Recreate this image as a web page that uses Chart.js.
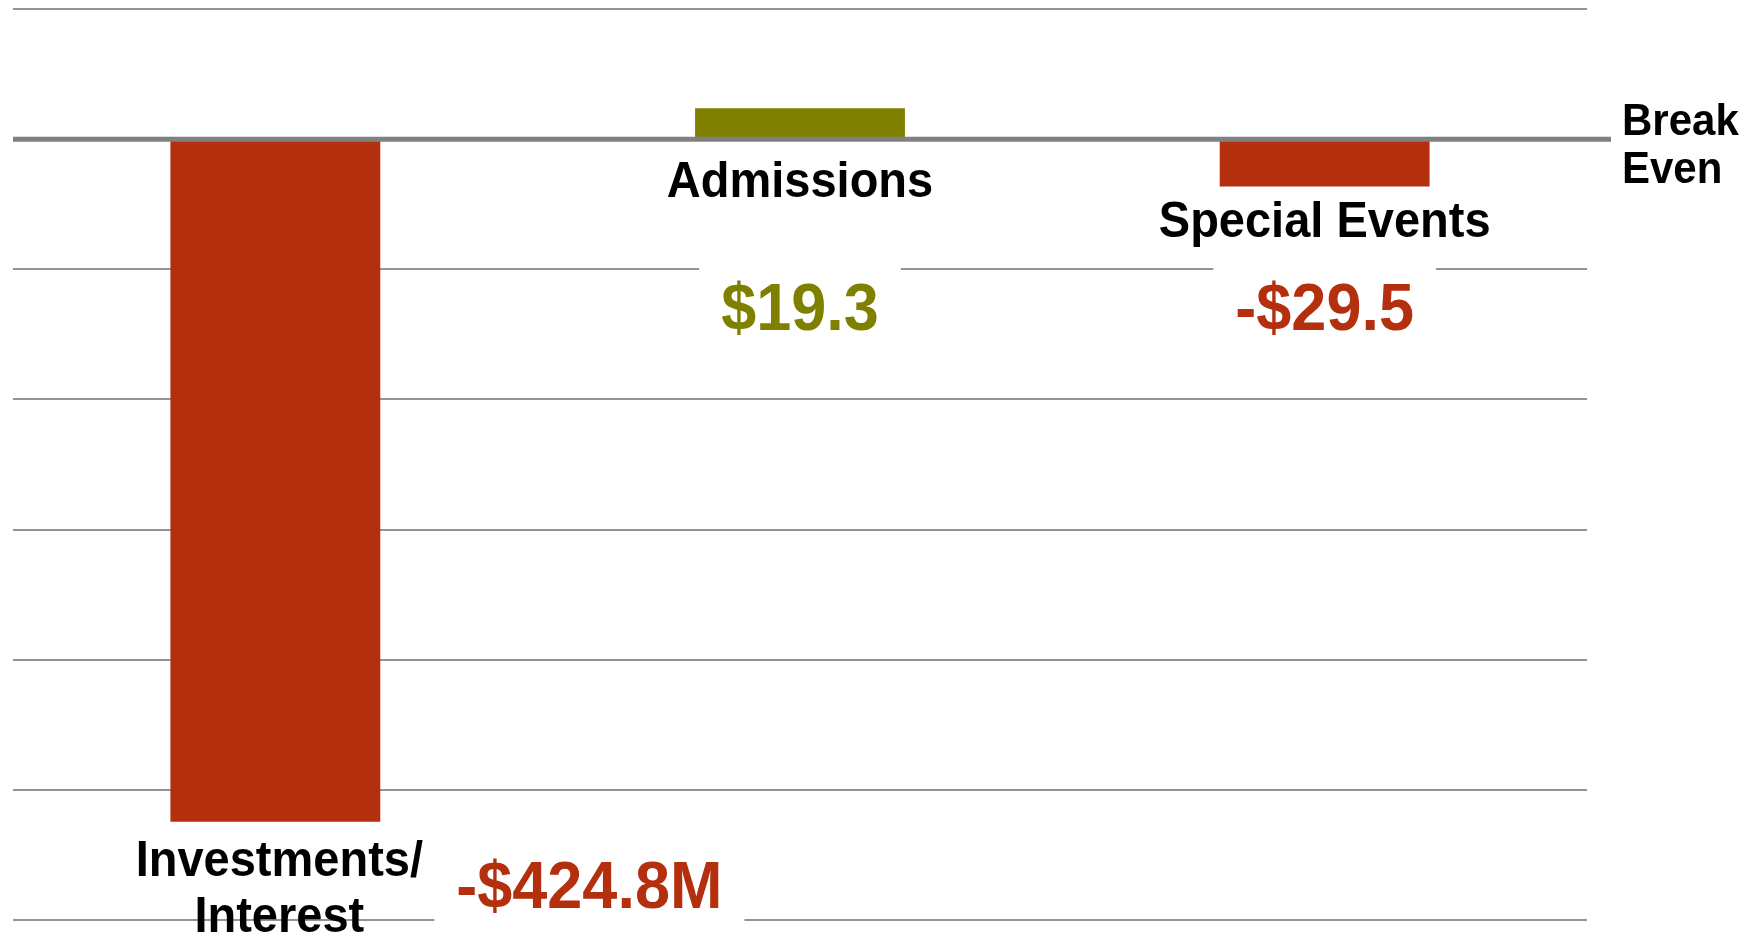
<!DOCTYPE html>
<html>
<head>
<meta charset="utf-8">
<script src="https://cdn.jsdelivr.net/npm/chart.js@4.4.0/dist/chart.umd.min.js"></script>
<style>
  html, body { margin: 0; padding: 0; background: #fff; }
  #wrap { width: 1763px; height: 940px; }
</style>
</head>
<body>
<div id="wrap"><canvas id="budgetChart" width="1763" height="940"></canvas></div>
<script>
// data ($M)
var categories = [["Investments/", "Interest"], ["Admissions"], ["Special Events"]];
var values = [-424.8, 19.3, -29.5];
var valueLabels = ["-$424.8M", "$19.3", "-$29.5"];
var tickStep = 81;   // gridline every 81
var yMin = -486, yMax = 81;

var RED = "#b32f0d", OLIVE = "#808000";
var FONT = "'Liberation Sans', Arial, Helvetica, sans-serif";

// text is a little taller than plain Arial in the slide
function tallText(ctx, str, x, y) {
  ctx.save();
  ctx.translate(x, y);
  ctx.scale(1, 1.06);
  ctx.fillText(str, 0, 0);
  ctx.restore();
}

// labels, white boxes, zero line
var labelPlugin = {
  id: "labels",
  afterDatasetsDraw: function(chart) {
    var ctx = chart.ctx;
    var x = chart.scales.x, y = chart.scales.y;
    var zero = y.getPixelForValue(0);
    var area = chart.chartArea;

    // break-even line
    ctx.save();
    ctx.strokeStyle = "#808080";
    ctx.lineWidth = 5;
    ctx.beginPath();
    ctx.moveTo(area.left, zero);
    ctx.lineTo(area.right + 24, zero);
    ctx.stroke();

    ctx.fillStyle = "#000";
    ctx.font = "bold 42px " + FONT;
    ctx.textAlign = "left";
    ctx.textBaseline = "alphabetic";
    tallText(ctx, "Break", area.right + 35, zero - 4);
    tallText(ctx, "Even", area.right + 35, zero + 44);

    values.forEach(function(v, i) {
      var cx = x.getPixelForValue(i);
      var end = y.getPixelForValue(v);
      var color = v < 0 ? RED : OLIVE;
      var twoLines = categories[i].length > 1;

      // category label
      var base = v < 0 ? end + (twoLines ? 54 : 50) : zero + 58;
      ctx.font = "bold 47px " + FONT;
      ctx.textAlign = "center";
      ctx.fillStyle = "#000";
      categories[i].forEach(function(line, k) {
        tallText(ctx, line, cx + (twoLines ? 4 : 0), base + k * 56);
      });

      // value label
      var vx, vb;
      if (twoLines) {
        vx = cx + 314; vb = base + 32;
      } else {
        vx = cx; vb = zero + 191;
      }
      ctx.font = "bold 63px " + FONT;
      var w = ctx.measureText(valueLabels[i]).width;
      ctx.fillStyle = "#fff";
      ctx.fillRect(vx - w / 2 - 22, vb - 70, w + 44, 86);
      ctx.fillStyle = color;
      tallText(ctx, valueLabels[i], vx, vb);
    });
    ctx.restore();
  }
};

new Chart(document.getElementById("budgetChart"), {
  type: "bar",
  data: {
    labels: categories.map(function(c) { return c.join(" "); }),
    datasets: [{
      data: values,
      backgroundColor: values.map(function(v) { return v < 0 ? RED : OLIVE; }),
      borderWidth: 0,
      barPercentage: 0.4,
      categoryPercentage: 1
    }]
  },
  options: {
    responsive: false,
    animation: false,
    layout: { padding: { left: 13, right: 176, top: 9, bottom: 20 } },
    plugins: { legend: { display: false }, tooltip: { enabled: false } },
    scales: {
      x: {
        display: true,
        grid: { display: false, drawTicks: false },
        border: { display: false },
        ticks: { display: false }
      },
      y: {
        min: yMin,
        max: yMax,
        grid: { color: "#949494", lineWidth: 2, drawTicks: false },
        border: { display: false },
        ticks: { display: false, stepSize: tickStep }
      }
    }
  },
  plugins: [labelPlugin]
});
</script>
</body>
</html>
